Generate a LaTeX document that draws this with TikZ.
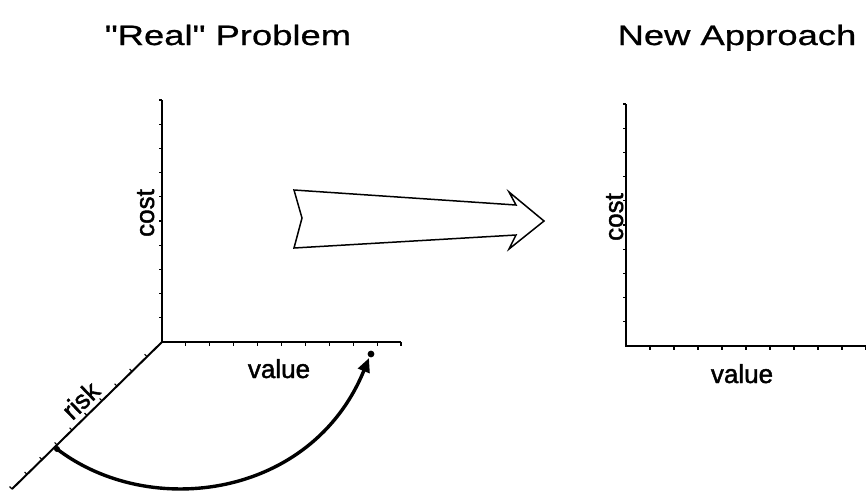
\documentclass[tikz,border=0pt]{standalone}
\usepackage{fontspec}
\setmainfont[FakeBold=1.2]{Liberation Sans}
\newfontfamily\titlefont[FakeStretch=1.3,FakeBold=0.8]{Liberation Sans}
\newfontfamily\labfont[FakeBold=1.6]{Liberation Sans}
\usetikzlibrary{arrows.meta,calc}
\begin{document}
\begin{tikzpicture}[x=1pt,y=-1pt,
  axis/.style={line width=2pt},
  tickmark/.style={line width=1.1pt},
  title/.style={font=\titlefont\fontsize{28}{30}\selectfont, anchor=base, inner sep=0pt},
  lab/.style={font=\labfont\fontsize{26}{28}\selectfont, anchor=base, inner sep=0pt},
  bigarrow/.style={line width=1.5pt, line join=miter},
  move/.style={line width=3.4pt, -{Triangle[length=14pt,width=12pt]}}]
\useasboundingbox (0,0) rectangle (866,491);
% titles
\node[title] (t1) at (228,45) {"Real" Problem};
\node[title] (t2) at (737,45) {New Approach};
% left axes
\coordinate (O1) at (162,342);
\coordinate (Y1) at (162,100);
\coordinate (X1) at (401,342);
\coordinate (R1) at (12,489);
\draw[axis] (Y1) -- (O1) -- (X1);
\draw[axis] (O1) -- (R1);
\foreach \k in {0,...,9} \draw[tickmark] ($(Y1)!\k/10!(O1)$) -- ++(-3.5,0);
\foreach \k in {1,...,10} \draw[tickmark] ($(O1)!\k/10!(X1)$) -- ++(0,3.5);
\foreach \k in {1,...,10} \draw[tickmark] ($(O1)!\k/10!(R1)$) -- ++(-2.4,-2.4);
% labels left
\node[lab, rotate=90] (c1) at (154,213) {cost};
\node[lab] (v1) at (279,378) {value};
\node[lab, rotate=44] (r1) at (87,407) {risk};
% curved move
\coordinate (S) at (57,449);
\coordinate (E) at (369,358);
\coordinate (Ed) at (371,354);
\fill (S) circle (3);
\fill (Ed) circle (3.4);
\draw[move] (S) .. controls (150,520) and (312,498) .. (E);
% big arrow
\draw[bigarrow] (294,190) -- (516,205) -- (509,192) -- (544,221) -- (509,249) -- (516,235) -- (294,248) -- (302,218) -- cycle;
% right axes
\coordinate (O2) at (626,346);
\coordinate (Y2) at (626,104);
\coordinate (X2) at (866,346);
\draw[axis] (Y2) -- (O2) -- (X2);
\foreach \k in {0,...,9} \draw[tickmark] ($(Y2)!\k/10!(O2)$) -- ++(-3.5,0);
\foreach \k in {1,...,10} \draw[tickmark] ($(O2)!\k/10!(X2)$) -- ++(0,3.5);
\node[lab, rotate=90] (c2) at (623,217) {cost};
\node[lab] (v2) at (742,383) {value};
\end{tikzpicture}
\end{document}
